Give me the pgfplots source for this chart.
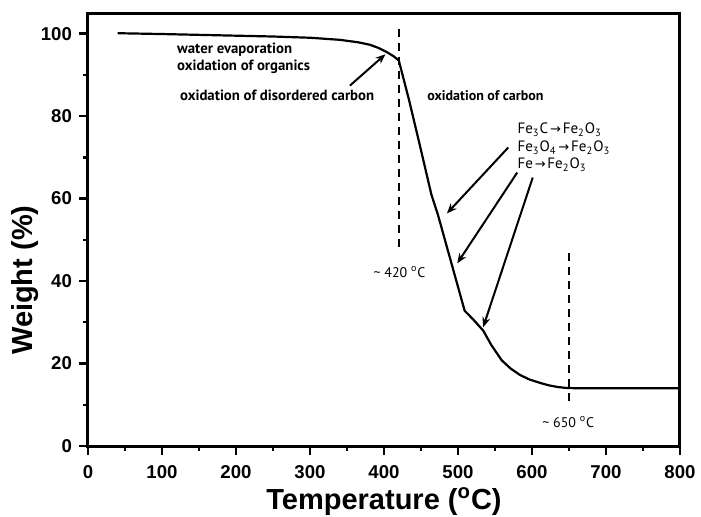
\documentclass[border=0pt]{standalone}
\usepackage{fontspec}
\setmainfont{Liberation Sans}
\newfontfamily\ptsans{PT Sans}
\newfontfamily\dejavu{DejaVu Sans}
\usepackage{pgfplots}
\pgfplotsset{compat=1.18}
\usetikzlibrary{arrows.meta}
\newcommand\ar{\hspace{0.12em}{\dejavu\fontsize{6.5}{8}\selectfont →}\hspace{0.12em}}
\begin{document}
\begin{tikzpicture}
\path[use as bounding box] (-44pt,-35pt) rectangle (306.5pt,223pt);
\begin{axis}[
  scale only axis, width=296pt, height=216.5pt,
  xmin=0, xmax=800, ymin=0, ymax=105,
  xtick={0,100,...,800}, ytick={0,20,...,100},
  minor x tick num=1, minor y tick num=1,
  tick pos=left, tick align=outside,
  major tick length=4.5pt, minor tick length=2.5pt,
  every tick/.append style={black, line width=1.2pt},
  axis line style={line width=1.5pt},
  ticklabel style={font=\bfseries\fontsize{9.3}{11}\selectfont},
  xticklabel style={yshift=-1.5pt},
  /pgf/number format/assume math mode=true,
  xlabel={Temperature (\textsuperscript{o}C)},
  ylabel={Weight (\%)},
  label style={font=\bfseries\fontsize{14.5}{16}\selectfont},
  xlabel style={at={(axis description cs:0.5,-0.1455)}, anchor=base},
  ylabel style={at={(axis description cs:-0.093,0.383)}, anchor=base},
  clip=false,
]
\addplot[black, line width=1.1pt] coordinates {
(40,100.1)(100,99.9)(150,99.7)(200,99.5)(250,99.3)(300,99.0)(340,98.5)(365,97.9)
(381,97.3)(393,96.5)(404,95.5)(413,94.5)(420,93.5)(434,83.8)(449,72.5)(464,61.0)
(473,56.0)(491,44.4)(509,32.8)(521,30.6)(534,28.0)(545,24.5)(559,20.8)(571,18.8)
(584,17.2)(597,16.1)(611,15.3)(623,14.7)(635,14.3)(645,14.1)(660,14.0)(700,14.0)(800,14.0)
};
\addplot[black, line width=1pt, dash pattern=on 4pt off 3pt] coordinates {(420,101.2)(420,48)};
\addplot[black, line width=1pt, dash pattern=on 4pt off 3pt] coordinates {(650,46.7)(650,9.4)};
\begin{scope}[every node/.style={font=\ptsans\bfseries\fontsize{7.4}{8}\selectfont, inner sep=0pt}]
\node[anchor=base west] at (axis cs:120,95.1) {water evaporation};
\node[anchor=base west] at (axis cs:120,91.0) {oxidation of organics};
\node[anchor=base west] at (axis cs:124,83.8) {oxidation of disordered carbon};
\end{scope}
\node[anchor=base west, inner sep=0pt, font=\ptsans\bfseries\fontsize{7}{8}\selectfont] at (axis cs:458,83.8) {oxidation of carbon};
\begin{scope}[every node/.style={font=\ptsans\fontsize{7.5}{9}\selectfont, inner sep=0pt}]
\node[anchor=base west] at (axis cs:580,75.7) {Fe\textsubscript{3}C\ar Fe\textsubscript{2}O\textsubscript{3}};
\node[anchor=base west] at (axis cs:580,71.4) {Fe\textsubscript{3}O\textsubscript{4}\ar Fe\textsubscript{2}O\textsubscript{3}};
\node[anchor=base west] at (axis cs:580,67.2) {Fe\ar Fe\textsubscript{2}O\textsubscript{3}};
\end{scope}
\begin{scope}[every node/.style={font=\ptsans\fontsize{7}{8}\selectfont, inner sep=0pt}]
\node[anchor=base] at (axis cs:421,40.9) {\textasciitilde{} 420 \textsuperscript{o}C};
\node[anchor=base] at (axis cs:649,4.6) {\textasciitilde{} 650 \textsuperscript{o}C};
\end{scope}
\begin{scope}[line width=1pt, -{Stealth[length=5pt,width=4pt]}]
\draw (axis cs:354,87.4) -- (axis cs:402,95);
\draw (axis cs:568,72.4) -- (axis cs:485,56.4);
\draw (axis cs:580,66.3) -- (axis cs:499,44.3);
\draw (axis cs:601,65.1) -- (axis cs:534,28.8);
\end{scope}
\end{axis}
\end{tikzpicture}
\end{document}
